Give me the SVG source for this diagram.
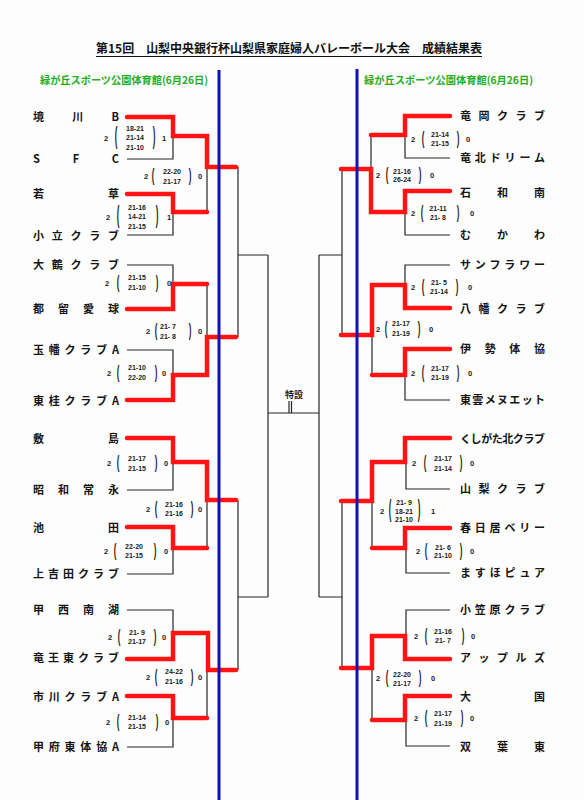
<svg xmlns="http://www.w3.org/2000/svg" width="584" height="800" viewBox="0 0 584 800">
<style>
.bg{fill:#fdfdfd}
.ttl{font-family:"Noto Sans CJK JP","Liberation Sans",sans-serif;font-size:12px;font-weight:bold;fill:#111}
.hdr{font-family:"Noto Sans CJK JP","Liberation Sans",sans-serif;font-size:10.5px;font-weight:bold;fill:#1fae1f}
.nm{font-family:"Noto Sans CJK JP","Liberation Sans",sans-serif;font-size:11px;font-weight:bold;fill:#151515}
.sc{font-family:"Liberation Sans",Arial,sans-serif;font-size:7px;font-weight:bold;fill:#222;text-anchor:middle}
.nb{font-family:"Liberation Sans",Arial,sans-serif;font-size:7.5px;font-weight:bold;fill:#222;text-anchor:middle}
.pr{font-family:"Liberation Sans",Arial,sans-serif;font-size:8px;font-weight:bold;fill:#1a1a1a;text-anchor:middle}
.sp{font-family:"Noto Sans CJK JP",sans-serif;font-size:9px;font-weight:bold;fill:#222;text-anchor:middle}
.bk{fill:none;stroke:#262626;stroke-width:1.2}
.rd{fill:none;stroke:#ff1414;stroke-width:4.5;stroke-linecap:round;stroke-linejoin:miter}
.bl{fill:none;stroke:#1010b8;stroke-width:3}
</style>
<rect class="bg" x="0" y="0" width="584" height="800"/>
<g id="title">
<text class="ttl" x="96" y="53" textLength="386" lengthAdjust="spacing">第15回　山梨中央銀行杯山梨県家庭婦人バレーボール大会　成績結果表</text>
<line x1="96" y1="56.5" x2="482" y2="56.5" stroke="#111" stroke-width="1"/>
</g>
<g id="venue-left"><text class="hdr" x="40" y="84" textLength="168" lengthAdjust="spacingAndGlyphs">緑が丘スポーツ公園体育館(6月26日)</text></g>
<g id="venue-right"><text class="hdr" x="364" y="84" textLength="169" lengthAdjust="spacingAndGlyphs">緑が丘スポーツ公園体育館(6月26日)</text></g>

<g id="connectors">
<!-- left black brackets -->
<path class="bk" d="M127,117H173V159H127M127,194H173V235H127M207,136V212M207,167H238"/>
<path class="bk" d="M127,265H173V309H127M127,350H173V401H127M207,284V375M207,337H238"/>
<path class="bk" d="M127,438H173V490H127M127,527H173V574H127M207,462V548M207,500H238"/>
<path class="bk" d="M127,610H173V659H127M127,696H173V747H127M207,633V718M207,670H238"/>
<path class="bk" d="M238,167V337M238,255H268M238,500V670M238,597H268M268,255V597M268,413H319"/>
<!-- right black brackets -->
<path class="bk" d="M450,116H405V158H450M450,191H405V235H450M371,135V212M371,169H342"/>
<path class="bk" d="M450,265H405V308H450M450,349H405V400H450M372,285V375M372,335H342"/>
<path class="bk" d="M450,438H406V489H450M450,528H406V573H450M372,462V548M372,501H342"/>
<path class="bk" d="M450,610H406V659H450M450,696H406V746H450M372,636V720M372,668H342"/>
<path class="bk" d="M342,169V335M342,255H319M342,501V668M342,597H319M319,255V597"/>
<!-- left red -->
<path class="rd" d="M127,117H173V136H207V167H236"/>
<path class="rd" d="M127,194H173V212H207"/>
<path class="rd" d="M127,309H173V284H207"/>
<path class="rd" d="M127,400H173V375H207V337H236"/>
<path class="rd" d="M127,438H173V462H207V500H236"/>
<path class="rd" d="M127,527H173V548H207"/>
<path class="rd" d="M127,659H173V633H208V670H236"/>
<path class="rd" d="M127,696H173V718H207"/>
<!-- right red -->
<path class="rd" d="M450,116H405V135H371"/>
<path class="rd" d="M450,191H405V212H371V169H341"/>
<path class="rd" d="M450,308H405V285H372V335H341"/>
<path class="rd" d="M450,349H405V375H372"/>
<path class="rd" d="M450,438H405V462H372V501H341"/>
<path class="rd" d="M450,528H405V548H372"/>
<path class="rd" d="M450,659H405V636H372V668H341"/>
<path class="rd" d="M450,696H405V720H372"/>
<!-- special -->
<path class="bk" d="M289,401V413M291.5,401V413" stroke-width="1"/>
<!-- blue lines -->
<line class="bl" x1="219" y1="70" x2="219" y2="800"/>
<line class="bl" x1="357" y1="69" x2="357" y2="800"/>
</g>

<g id="special"><text class="sp" x="294" y="398">特設</text></g>

<!-- left teams -->
<g id="team-L1"><text class="nm" x="33" y="121" textLength="86" lengthAdjust="spacing">境川B</text></g>
<g id="team-L2"><text class="nm" x="33" y="163" textLength="86" lengthAdjust="spacing">SFC</text></g>
<g id="team-L3"><text class="nm" x="33" y="198" textLength="86" lengthAdjust="spacing">若草</text></g>
<g id="team-L4"><text class="nm" x="33" y="240" textLength="86" lengthAdjust="spacing">小立クラブ</text></g>
<g id="team-L5"><text class="nm" x="33" y="269" textLength="86" lengthAdjust="spacing">大鶴クラブ</text></g>
<g id="team-L6"><text class="nm" x="33" y="313" textLength="86" lengthAdjust="spacing">都留愛球</text></g>
<g id="team-L7"><text class="nm" x="33" y="354" textLength="86" lengthAdjust="spacing">玉幡クラブA</text></g>
<g id="team-L8"><text class="nm" x="33" y="405" textLength="86" lengthAdjust="spacing">東桂クラブA</text></g>
<g id="team-L9"><text class="nm" x="33" y="443" textLength="86" lengthAdjust="spacing">敷島</text></g>
<g id="team-L10"><text class="nm" x="33" y="494" textLength="86" lengthAdjust="spacing">昭和常永</text></g>
<g id="team-L11"><text class="nm" x="33" y="532" textLength="86" lengthAdjust="spacing">池田</text></g>
<g id="team-L12"><text class="nm" x="33" y="578" textLength="86" lengthAdjust="spacing">上吉田クラブ</text></g>
<g id="team-L13"><text class="nm" x="33" y="614" textLength="86" lengthAdjust="spacing">甲西南湖</text></g>
<g id="team-L14"><text class="nm" x="33" y="662" textLength="86" lengthAdjust="spacing">竜王東クラブ</text></g>
<g id="team-L15"><text class="nm" x="33" y="701" textLength="86" lengthAdjust="spacing">市川クラブA</text></g>
<g id="team-L16"><text class="nm" x="33" y="751" textLength="86" lengthAdjust="spacing">甲府東体協A</text></g>
<!-- right teams -->
<g id="team-R1"><text class="nm" x="460" y="120" textLength="85" lengthAdjust="spacing">竜岡クラブ</text></g>
<g id="team-R2"><text class="nm" x="460" y="162" textLength="85" lengthAdjust="spacing">竜北ドリーム</text></g>
<g id="team-R3"><text class="nm" x="460" y="197" textLength="85" lengthAdjust="spacing">石和南</text></g>
<g id="team-R4"><text class="nm" x="460" y="239" textLength="85" lengthAdjust="spacing">むかわ</text></g>
<g id="team-R5"><text class="nm" x="460" y="269" textLength="85" lengthAdjust="spacing">サンフラワー</text></g>
<g id="team-R6"><text class="nm" x="460" y="313" textLength="85" lengthAdjust="spacing">八幡クラブ</text></g>
<g id="team-R7"><text class="nm" x="460" y="353" textLength="85" lengthAdjust="spacing">伊勢体協</text></g>
<g id="team-R8"><text class="nm" x="460" y="404" textLength="85" lengthAdjust="spacing">東雲メヌエット</text></g>
<g id="team-R9"><text class="nm" x="460" y="443" textLength="85" lengthAdjust="spacing">くしがた北クラブ</text></g>
<g id="team-R10"><text class="nm" x="460" y="493" textLength="85" lengthAdjust="spacing">山梨クラブ</text></g>
<g id="team-R11"><text class="nm" x="460" y="532" textLength="85" lengthAdjust="spacing">春日居ベリー</text></g>
<g id="team-R12"><text class="nm" x="460" y="577" textLength="85" lengthAdjust="spacing">ますほピュア</text></g>
<g id="team-R13"><text class="nm" x="460" y="614" textLength="85" lengthAdjust="spacing">小笠原クラブ</text></g>
<g id="team-R14"><text class="nm" x="460" y="662" textLength="85" lengthAdjust="spacing">アップルズ</text></g>
<g id="team-R15"><text class="nm" x="460" y="701" textLength="85" lengthAdjust="spacing">大国</text></g>
<g id="team-R16"><text class="nm" x="460" y="751" textLength="85" lengthAdjust="spacing">双葉東</text></g>

<!-- left scores -->
<g id="score-L1"><text class="nb" x="106" y="141">2</text><text class="pr" transform="translate(116,138) scale(1,3)" y="2.1">(</text><text class="sc" x="135" y="130.5">18-21</text><text class="sc" x="135" y="140">21-14</text><text class="sc" x="135" y="149.5">21-10</text><text class="pr" transform="translate(154,138) scale(1,3)" y="2.1">)</text><text class="nb" x="164" y="141">1</text></g>
<g id="score-L2"><text class="nb" x="146" y="179">2</text><text class="pr" transform="translate(153,176) scale(1,2.4)" y="2.1">(</text><text class="sc" x="172" y="173.5">22-20</text><text class="sc" x="172" y="183.5">21-17</text><text class="pr" transform="translate(190,176) scale(1,2.4)" y="2.1">)</text><text class="nb" x="200" y="179">0</text></g>
<g id="score-L3"><text class="nb" x="108" y="220">2</text><text class="pr" transform="translate(118,217) scale(1,3)" y="2.1">(</text><text class="sc" x="137" y="209.5">21-16</text><text class="sc" x="137" y="219">14-21</text><text class="sc" x="137" y="228.5">21-15</text><text class="pr" transform="translate(157,217) scale(1,3)" y="2.1">)</text><text class="nb" x="169" y="220">1</text></g>
<g id="score-L4"><text class="nb" x="107" y="286">2</text><text class="pr" transform="translate(118,283) scale(1,2.4)" y="2.1">(</text><text class="sc" x="137" y="279.5">21-15</text><text class="sc" x="137" y="290">21-10</text><text class="pr" transform="translate(157,283) scale(1,2.4)" y="2.1">)</text><text class="nb" x="169" y="286">0</text></g>
<g id="score-L5"><text class="nb" x="148" y="334">2</text><text class="pr" transform="translate(156,331) scale(1,2.4)" y="2.1">(</text><text class="sc" x="168" y="328.5">21- 7</text><text class="sc" x="168" y="338.5">21- 8</text><text class="pr" transform="translate(190,331) scale(1,2.4)" y="2.1">)</text><text class="nb" x="200" y="334">0</text></g>
<g id="score-L6"><text class="nb" x="109" y="376">2</text><text class="pr" transform="translate(118,373) scale(1,2.4)" y="2.1">(</text><text class="sc" x="137" y="369.5">21-10</text><text class="sc" x="137" y="379.5">22-20</text><text class="pr" transform="translate(156,373) scale(1,2.4)" y="2.1">)</text><text class="nb" x="164" y="376">0</text></g>
<g id="score-L7"><text class="nb" x="109" y="466">2</text><text class="pr" transform="translate(118,463) scale(1,2.4)" y="2.1">(</text><text class="sc" x="137" y="460.5">21-17</text><text class="sc" x="137" y="470.5">21-15</text><text class="pr" transform="translate(156,463) scale(1,2.4)" y="2.1">)</text><text class="nb" x="166" y="466">0</text></g>
<g id="score-L8"><text class="nb" x="148" y="512">2</text><text class="pr" transform="translate(156,509) scale(1,2.4)" y="2.1">(</text><text class="sc" x="174" y="506.5">21-16</text><text class="sc" x="174" y="515.5">21-16</text><text class="pr" transform="translate(192,509) scale(1,2.4)" y="2.1">)</text><text class="nb" x="200" y="512">0</text></g>
<g id="score-L9"><text class="nb" x="106" y="554">2</text><text class="pr" transform="translate(115,551) scale(1,2.4)" y="2.1">(</text><text class="sc" x="134" y="548.5">22-20</text><text class="sc" x="134" y="557.5">21-15</text><text class="pr" transform="translate(155,551) scale(1,2.4)" y="2.1">)</text><text class="nb" x="166" y="554">0</text></g>
<g id="score-L10"><text class="nb" x="110" y="640">2</text><text class="pr" transform="translate(119,637) scale(1,2.4)" y="2.1">(</text><text class="sc" x="137" y="634.5">21- 9</text><text class="sc" x="137" y="643.5">21-17</text><text class="pr" transform="translate(155,637) scale(1,2.4)" y="2.1">)</text><text class="nb" x="164" y="640">0</text></g>
<g id="score-L11"><text class="nb" x="148" y="680">2</text><text class="pr" transform="translate(156,677) scale(1,2.4)" y="2.1">(</text><text class="sc" x="174" y="673.5">24-22</text><text class="sc" x="174" y="683.5">21-16</text><text class="pr" transform="translate(192,677) scale(1,2.4)" y="2.1">)</text><text class="nb" x="200" y="680">0</text></g>
<g id="score-L12"><text class="nb" x="108" y="725">2</text><text class="pr" transform="translate(118,722) scale(1,2.4)" y="2.1">(</text><text class="sc" x="137" y="719.5">21-14</text><text class="sc" x="137" y="728.5">21-15</text><text class="pr" transform="translate(157,722) scale(1,2.4)" y="2.1">)</text><text class="nb" x="167" y="725">0</text></g>
<!-- right scores -->
<g id="score-R1"><text class="nb" x="413" y="142">2</text><text class="pr" transform="translate(423,139) scale(1,2.4)" y="2.1">(</text><text class="sc" x="440" y="136.5">21-14</text><text class="sc" x="440" y="145.5">21-15</text><text class="pr" transform="translate(458,139) scale(1,2.4)" y="2.1">)</text><text class="nb" x="468" y="142">0</text></g>
<g id="score-R2"><text class="nb" x="378" y="178">2</text><text class="pr" transform="translate(387,175) scale(1,2.4)" y="2.1">(</text><text class="sc" x="402" y="173.5">21-16</text><text class="sc" x="402" y="181.5">26-24</text><text class="pr" transform="translate(420,175) scale(1,2.4)" y="2.1">)</text><text class="nb" x="432" y="178">0</text></g>
<g id="score-R3"><text class="nb" x="413" y="216">2</text><text class="pr" transform="translate(422,213) scale(1,2.4)" y="2.1">(</text><text class="sc" x="438" y="210.5">21-11</text><text class="sc" x="438" y="219.5">21- 8</text><text class="pr" transform="translate(458,213) scale(1,2.4)" y="2.1">)</text><text class="nb" x="472" y="216">0</text></g>
<g id="score-R4"><text class="nb" x="413" y="290">2</text><text class="pr" transform="translate(423,287) scale(1,2.4)" y="2.1">(</text><text class="sc" x="439" y="284.5">21- 5</text><text class="sc" x="439" y="293.5">21-14</text><text class="pr" transform="translate(457,287) scale(1,2.4)" y="2.1">)</text><text class="nb" x="470" y="290">0</text></g>
<g id="score-R5"><text class="nb" x="378" y="332">2</text><text class="pr" transform="translate(386,329) scale(1,2.4)" y="2.1">(</text><text class="sc" x="401" y="325.5">21-17</text><text class="sc" x="401" y="335.5">21-19</text><text class="pr" transform="translate(419,329) scale(1,2.4)" y="2.1">)</text><text class="nb" x="431" y="332">0</text></g>
<g id="score-R6"><text class="nb" x="413" y="376">2</text><text class="pr" transform="translate(423,373) scale(1,2.4)" y="2.1">(</text><text class="sc" x="440" y="370.5">21-17</text><text class="sc" x="440" y="379.5">21-19</text><text class="pr" transform="translate(458,373) scale(1,2.4)" y="2.1">)</text><text class="nb" x="470" y="376">0</text></g>
<g id="score-R7"><text class="nb" x="414" y="466">2</text><text class="pr" transform="translate(425,463) scale(1,2.4)" y="2.1">(</text><text class="sc" x="443" y="460.5">21-17</text><text class="sc" x="443" y="470.5">21-14</text><text class="pr" transform="translate(461,463) scale(1,2.4)" y="2.1">)</text><text class="nb" x="472" y="466">0</text></g>
<g id="score-R8"><text class="nb" x="382" y="514">2</text><text class="pr" transform="translate(390,511) scale(1,3)" y="2.1">(</text><text class="sc" x="404" y="504.5">21- 9</text><text class="sc" x="404" y="513.5">18-21</text><text class="sc" x="404" y="521.5">21-10</text><text class="pr" transform="translate(419,511) scale(1,3)" y="2.1">)</text><text class="nb" x="433" y="514">1</text></g>
<g id="score-R9"><text class="nb" x="418" y="554">2</text><text class="pr" transform="translate(426,551) scale(1,2.4)" y="2.1">(</text><text class="sc" x="443" y="549.5">21- 6</text><text class="sc" x="443" y="557.5">21-10</text><text class="pr" transform="translate(461,551) scale(1,2.4)" y="2.1">)</text><text class="nb" x="472" y="554">0</text></g>
<g id="score-R10"><text class="nb" x="416" y="639">2</text><text class="pr" transform="translate(426,636) scale(1,2.4)" y="2.1">(</text><text class="sc" x="443" y="633.5">21-16</text><text class="sc" x="443" y="642.5">21- 7</text><text class="pr" transform="translate(463,636) scale(1,2.4)" y="2.1">)</text><text class="nb" x="473" y="639">0</text></g>
<g id="score-R11"><text class="nb" x="378" y="681">2</text><text class="pr" transform="translate(387,678) scale(1,2.4)" y="2.1">(</text><text class="sc" x="402" y="676.5">22-20</text><text class="sc" x="402" y="685.5">21-17</text><text class="pr" transform="translate(420,678) scale(1,2.4)" y="2.1">)</text><text class="nb" x="433" y="681">0</text></g>
<g id="score-R12"><text class="nb" x="416" y="721">2</text><text class="pr" transform="translate(426,718) scale(1,2.4)" y="2.1">(</text><text class="sc" x="443" y="715.5">21-17</text><text class="sc" x="443" y="725.5">21-19</text><text class="pr" transform="translate(462,718) scale(1,2.4)" y="2.1">)</text><text class="nb" x="472" y="721">0</text></g>
</svg>
